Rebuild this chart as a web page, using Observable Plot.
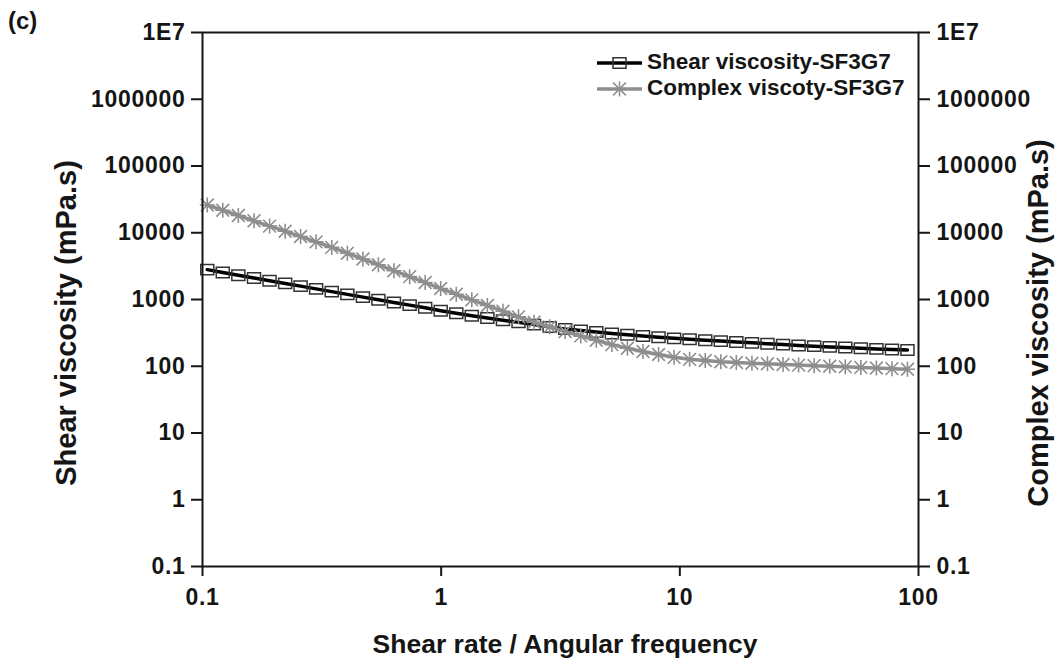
<!DOCTYPE html>
<html><head><meta charset="utf-8">
<script src="https://cdn.jsdelivr.net/npm/d3@7"></script>
<script src="https://cdn.jsdelivr.net/npm/@observablehq/plot@0.6"></script>
<style>
body{margin:0;background:#fff;}
#chart{position:relative;width:1059px;height:667px;overflow:hidden;}
</style></head><body><div id="chart"></div>
<script>
// ---- data ----
const shearRate = [0.1047,0.1216,0.1413,0.1644,0.191,0.222,0.2576,0.2992,0.348,0.4046,
  0.47,0.5458,0.6339,0.7379,0.857,0.9954,1.157,1.344,1.562,1.815,
  2.109,2.451,2.848,3.309,3.845,4.467,5.19,6.03,7.008,8.143,
  9.462,10.99,12.78,14.85,17.25,20.05,23.29,27.07,31.45,36.54,
  42.46,49.34,57.33,66.62,77.4,89.9];
const shearViscosity = [2800,2541,2312,2104,1914,1742,1585,1442,1312,1194,
  1086,991,904,824,752,680,621,571,527,490,
  454,421,387,361,343,326,310,296,284,272,
  262,254,245,238,231,224,217,211,205,200,
  195,191,186,182,178,175];
const complexViscosity = [26060,21730,18150,15100,12590,10520,8770,7310,6030,4940,
  4050,3310,2700,2200,1800,1460,1200,989,813,668,
  550,457,389,331,285,245,211,186,166,150,
  136,127,122,117,114,111,109,106,104,102,
  100,98,96,94,92,90];
const seriesNames = ["Shear viscosity-SF3G7", "Complex viscoty-SF3G7"];
const xTicks = [0.1, 1, 10, 100];
const yTicks = [0.1, 1, 10, 100, 1000, 10000, 100000, 1000000, 10000000];
const yTickLabels = ["0.1","1","10","100","1000","10000","100000","1000000","1E7"];
const xTitle = "Shear rate / Angular frequency";
const yTitleLeft = "Shear viscosity (mPa.s)";
const yTitleRight = "Complex viscosity (mPa.s)";
const panelLabel = "(c)";

// ---- styling ----
const W = 1059, H = 667;
const M = {top: 32, right: 141, bottom: 101, left: 202};
const FONT = "'Liberation Sans', Arial, Helvetica, sans-serif";
const INK = "#151515";
const GRAY = "#8e8e8e";
const TICK_FS = 23;

const shearData = shearRate.map((x, i) => ({x, y: shearViscosity[i]}));
const complexData = shearRate.map((x, i) => ({x, y: complexViscosity[i]}));

const rectSymbol = {draw(ctx, size) {
  const r = Math.sqrt(size / Math.PI), w = r * 1.25, h = r;
  ctx.moveTo(-w, -h); ctx.lineTo(w, -h); ctx.lineTo(w, h); ctx.lineTo(-w, h); ctx.closePath();
}};
const asteriskSymbol = {draw(ctx, size) {
  const r = Math.sqrt(size / Math.PI), d = r * 0.85;
  ctx.moveTo(0, -r); ctx.lineTo(0, r);
  ctx.moveTo(-r, 0); ctx.lineTo(r, 0);
  ctx.moveTo(-d, -d); ctx.lineTo(d, d);
  ctx.moveTo(-d, d); ctx.lineTo(d, -d);
}};

const fmtY = d => yTickLabels[yTicks.indexOf(d)] ?? String(d);

const chart = Plot.plot({
  width: W, height: H,
  marginTop: M.top, marginRight: M.right, marginBottom: M.bottom, marginLeft: M.left,
  style: {fontFamily: FONT, fontWeight: "bold", fontSize: TICK_FS + "px", color: INK, background: "#fff", overflow: "visible"},
  x: {type: "log", domain: [0.1, 100]},
  y: {type: "log", domain: [0.1, 1e7]},
  marks: [
    Plot.line(shearData, {x: "x", y: "y", stroke: "#000", strokeWidth: 3.5}),
    Plot.dot(shearData, {x: "x", y: "y", symbol: rectSymbol, r: 5.2, stroke: "#333", strokeWidth: 1.5, fill: "none"}),
    Plot.line(complexData, {x: "x", y: "y", stroke: GRAY, strokeWidth: 3.5}),
    Plot.dot(complexData, {x: "x", y: "y", symbol: asteriskSymbol, r: 7.5, stroke: GRAY, strokeWidth: 1.6, fill: "none"}),
    Plot.axisY({ticks: yTicks, anchor: "left", tickSize: 11, tickPadding: 6, tickFormat: fmtY, label: null, strokeWidth: 2, fill: INK, fontSize: TICK_FS}),
    Plot.axisY({ticks: yTicks, anchor: "right", tickSize: 11, tickPadding: 7, tickFormat: fmtY, label: null, strokeWidth: 2, fill: INK, fontSize: TICK_FS}),
    Plot.axisX({ticks: xTicks, anchor: "bottom", tickSize: 10, tickPadding: 12, tickFormat: d => String(d), label: null, strokeWidth: 2, fill: INK, fontSize: TICK_FS}),
    Plot.frame({stroke: INK, strokeWidth: 2})
  ]
});

document.getElementById("chart").appendChild(chart);

const svg = d3.select(chart);
// slightly wider tick labels, as in the reference
svg.selectAll("text").style("letter-spacing", "0.7px");

// ---- titles and legend ----
const addText = (txt, x, y, size, rot) => {
  const t = svg.append("text").text(txt)
    .attr("font-family", FONT).attr("font-weight", "bold").attr("font-size", size)
    .attr("fill", INK).attr("text-anchor", "middle").attr("dominant-baseline", "middle");
  t.attr("transform", `translate(${x},${y})` + (rot ? ` rotate(${rot})` : ""));
  return t;
};
addText(xTitle, 565, 646, 26.5);
addText(yTitleLeft, 68, 323, 29, -90);
addText(yTitleRight, 1040, 323, 29, -90);
svg.append("text").text(panelLabel).attr("x", 8).attr("y", 29).attr("text-anchor", "start")
  .attr("font-family", FONT).attr("font-weight", "bold").attr("font-size", 24).attr("fill", INK);

const leg = svg.append("g").attr("transform", "translate(597,63)");
const legendItems = [
  {name: seriesNames[0], stroke: "#000", symStroke: "#333", sym: rectSymbol, r: 5.2},
  {name: seriesNames[1], stroke: GRAY, symStroke: GRAY, sym: asteriskSymbol, r: 7.5}
];
legendItems.forEach((it, i) => {
  const g = leg.append("g").attr("transform", `translate(0,${i * 26})`);
  g.append("line").attr("x1", 0).attr("x2", 45).attr("stroke", it.stroke).attr("stroke-width", 3.5);
  g.append("path").attr("transform", "translate(22.5,0)")
    .attr("d", d3.symbol(it.sym, it.r * it.r * Math.PI)())
    .attr("fill", "none").attr("stroke", it.symStroke).attr("stroke-width", 1.5);
  g.append("text").text(it.name).attr("x", 50).attr("text-anchor", "start").attr("dominant-baseline", "middle")
    .attr("font-family", FONT).attr("font-weight", "bold").attr("font-size", 22.5).attr("fill", INK);
});
</script></body></html>
